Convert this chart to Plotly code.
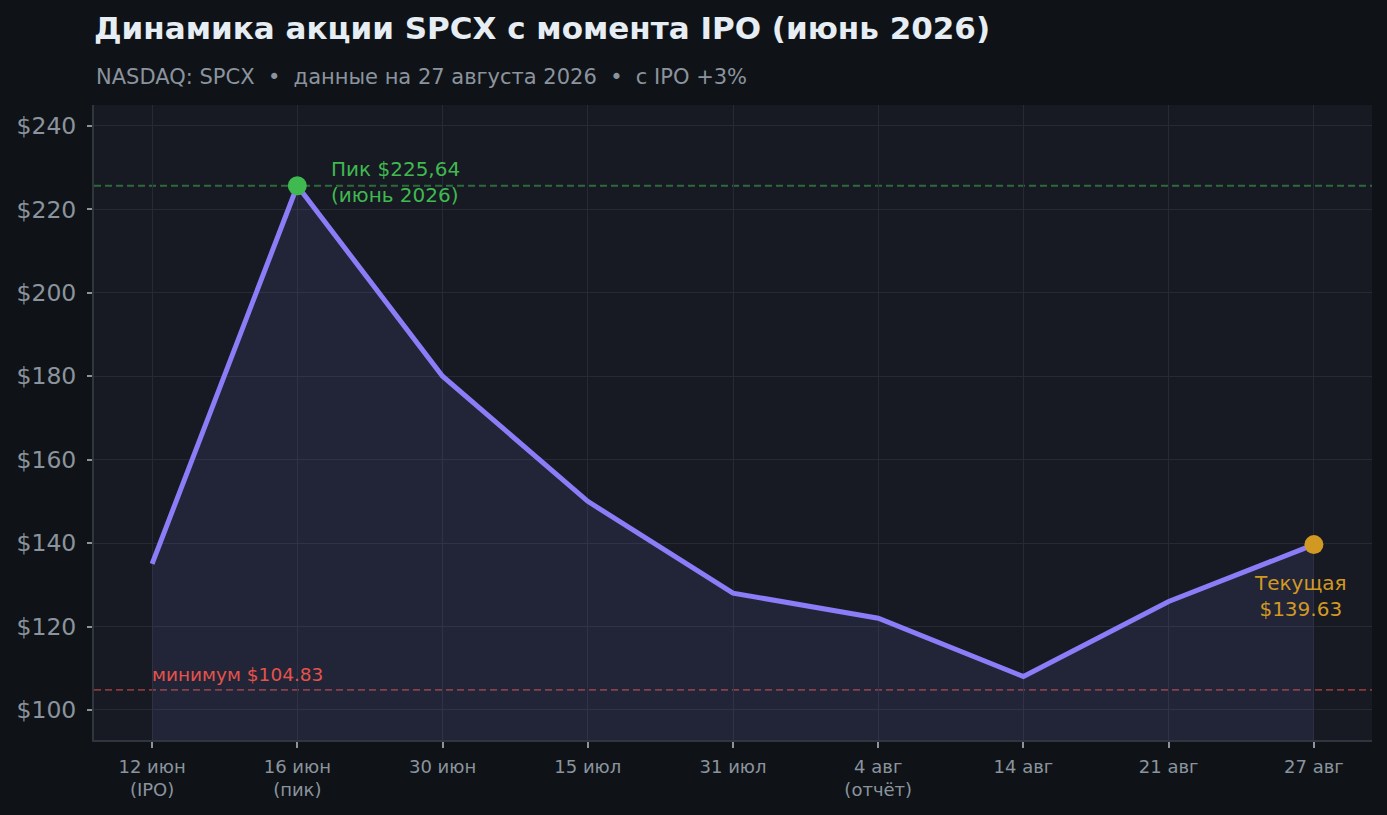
import plotly.graph_objects as go

# данные
dates = ["12 июн<br>(IPO)", "16 июн<br>(пик)", "30 июн", "15 июл", "31 июл",
         "4 авг<br>(отчёт)", "14 авг", "21 авг", "27 авг"]
prices = [135, 225.64, 180, 150, 128, 122, 108, 126, 139.63]
peak_price = 225.64
min_price = 104.83
current_price = 139.63
y_ticks = [100, 120, 140, 160, 180, 200, 220, 240]

BG = "#0f1317"
PLOT_BG = "#171a23"
GRID = "#262a35"
TXT = "#8b949e"
PURPLE = "#8b7cf8"
GREEN = "#3fb950"
ORANGE = "#d29922"
RED = "#e5534b"

xs = list(range(len(dates)))

fig = go.Figure()

fig.add_trace(go.Scatter(
    x=xs, y=prices, mode="lines",
    line=dict(color=PURPLE, width=5),
    fill="tozeroy", fillcolor="rgba(139,124,248,0.10)",
    hoverinfo="skip", showlegend=False
))

# пик и текущая цена
fig.add_trace(go.Scatter(
    x=[1], y=[peak_price], mode="markers",
    marker=dict(color=GREEN, size=19), showlegend=False
))
fig.add_trace(go.Scatter(
    x=[8], y=[current_price], mode="markers",
    marker=dict(color=ORANGE, size=19), showlegend=False
))

fig.add_hline(y=peak_price, line=dict(color="rgba(63,185,80,0.5)", width=1.8, dash="7px,4px"), layer="below")
fig.add_hline(y=min_price, line=dict(color="rgba(229,83,75,0.55)", width=1.8, dash="7px,4px"), layer="below")

fig.add_annotation(x=1, y=peak_price, xshift=32, yshift=4, text="Пик $225,64<br>(июнь 2026)",
                   showarrow=False, xanchor="left", yanchor="middle", align="left",
                   font=dict(color=GREEN, size=20))
fig.add_annotation(x=0, y=min_price, xshift=-2, yshift=3, text="минимум $104.83",
                   showarrow=False, xanchor="left", yanchor="bottom", align="left",
                   font=dict(color=RED, size=18.5))
fig.add_annotation(x=8, y=current_price, xshift=-13, yshift=-24, text="Текущая<br>$139.63",
                   showarrow=False, xanchor="center", yanchor="top", align="center",
                   font=dict(color=ORANGE, size=20))

fig.add_annotation(xref="paper", yref="paper", x=0, y=1.044, xanchor="left", yanchor="middle",
                   text="NASDAQ: SPCX\u00a0\u00a0•\u00a0\u00a0данные на 27 августа 2026\u00a0\u00a0•\u00a0\u00a0с IPO +3%",
                   showarrow=False, font=dict(color=TXT, size=21))

fig.update_layout(
    width=1387, height=815,
    paper_bgcolor=BG, plot_bgcolor=PLOT_BG,
    margin=dict(l=94, r=15, t=105, b=75),
    font=dict(family="DejaVu Sans", color=TXT),
    title=dict(text="<b>Динамика акции SPCX с момента IPO (июнь 2026)</b>",
               xref="paper", x=0, xanchor="left", yref="container", y=0.966, yanchor="middle",
               font=dict(size=31, color="#e6edf3")),
    showlegend=False,
)

fig.update_xaxes(
    range=[-0.4, 8.4], tickvals=xs, ticktext=dates,
    showgrid=True, gridcolor=GRID, gridwidth=1,
    showline=True, linecolor="#30363d", linewidth=2,
    ticks="outside", ticklen=6, tickcolor="#8b949e", tickwidth=1.5,
    ticklabelstandoff=3,
    tickfont=dict(size=18, color=TXT), zeroline=False
)
fig.update_yaxes(
    range=[92.8, 245], tickvals=y_ticks, ticktext=[f"${v}" for v in y_ticks],
    showgrid=True, gridcolor=GRID, gridwidth=1,
    showline=True, linecolor="#30363d", linewidth=2,
    ticks="outside", ticklen=5, tickcolor="#8b949e", tickwidth=1.5,
    ticklabelstandoff=6,
    tickfont=dict(size=23.5, color=TXT), zeroline=False
)

fig.write_html("out.html", config={"displayModeBar": False},
               post_script="document.body.style.margin='0';")
